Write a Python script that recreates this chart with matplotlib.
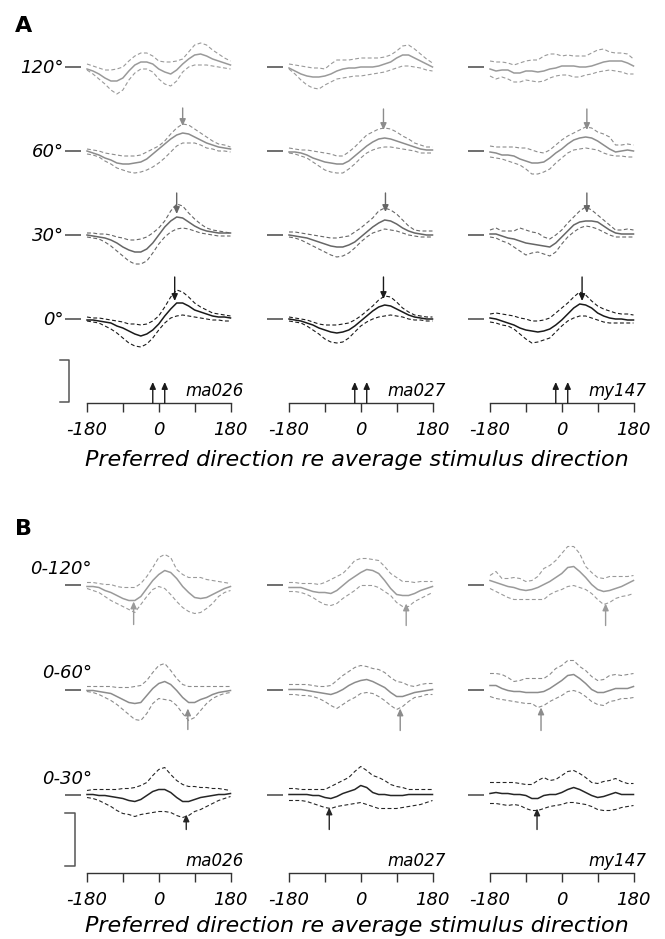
"""Population tuning of preferred direction, panels A and B, three animals."""

import matplotlib
matplotlib.use("Agg")
import matplotlib.pyplot as plt

plt.rcParams["font.family"] = ["DejaVu Sans"]

W, H = 665, 939

ANGLES = [-180, -165, -150, -135, -120, -105, -90, -75, -60, -45, -30, -15, 0,
          15, 30, 45, 60, 75, 90, 105, 120, 135, 150, 165, 180]
SUBJECTS = ["ma026", "ma027", "my147"]
STIM_DIRS = [-15, 15]
XTICKS = [-180, -90, 0, 90, 180]
XTICKLABELS = ["-180", "", "0", "", "180"]
XLABEL = "Preferred direction re average stimulus direction"

A_ROWS = ["0°", "30°", "60°", "120°"]
B_ROWS = ["0-30°", "0-60°", "0-120°"]

# ---- panel A, ma026 ----
A_MA026_0_MID = [-1, -1, -2, -3, -4, -7, -9, -12, -15, -17, -15, -11, -5, 3, 10, 16, 16, 13, 9, 7, 5, 3, 2, 2, 1]
A_MA026_0_HI = [2, 1, 1, 0, -1, -2, -3, -5, -5, -6, -5, -2, 3, 12, 22, 29, 27, 22, 16, 12, 9, 6, 5, 4, 3]
A_MA026_0_LO = [-2, -3, -4, -7, -10, -14, -19, -24, -27, -28, -25, -19, -11, -4, 1, 3, 4, 3, 2, 1, 0, -1, -1, -2, -2]
A_MA026_30_MID = [0, -1, -2, -3, -5, -8, -12, -15, -17, -17, -14, -8, 0, 8, 14, 18, 17, 13, 9, 6, 4, 3, 2, 2, 2]
A_MA026_30_HI = [2, 2, 1, 1, 0, -2, -3, -5, -5, -4, -2, 2, 7, 14, 24, 31, 29, 22, 16, 11, 7, 5, 4, 3, 2]
A_MA026_30_LO = [-2, -3, -4, -7, -11, -16, -21, -26, -29, -29, -26, -18, -9, -2, 3, 6, 7, 6, 4, 2, 1, 0, -1, -1, -1]
A_MA026_60_MID = [0, -2, -4, -7, -9, -12, -13, -13, -12, -11, -8, -3, 2, 7, 12, 16, 18, 17, 14, 11, 8, 6, 4, 3, 2]
A_MA026_60_HI = [2, 1, 0, -2, -3, -4, -5, -5, -5, -4, -1, 2, 5, 10, 17, 23, 27, 26, 22, 18, 14, 10, 7, 6, 4]
A_MA026_60_LO = [-3, -4, -6, -10, -13, -17, -19, -21, -22, -21, -19, -16, -12, -7, -1, 5, 8, 8, 8, 6, 3, 2, 0, 0, -1]
A_MA026_120_MID = [-2, -4, -7, -11, -14, -14, -11, -4, 2, 5, 5, 3, -2, -5, -7, -3, 3, 8, 12, 13, 11, 8, 6, 4, 2]
A_MA026_120_HI = [3, 1, -1, -3, -3, -2, 0, 6, 11, 14, 14, 11, 6, 5, 5, 6, 8, 15, 22, 24, 22, 17, 13, 9, 6]
A_MA026_120_LO = [-3, -7, -12, -17, -23, -27, -23, -13, -6, -2, -2, -5, -12, -17, -19, -14, -5, 0, 2, 2, 2, 1, 0, -1, -2]

# ---- panel A, ma027 ----
A_MA027_0_MID = [0, -1, -2, -4, -6, -9, -11, -13, -14, -13, -11, -7, -2, 3, 8, 12, 14, 13, 10, 7, 4, 2, 1, 0, 0]
A_MA027_0_HI = [2, 1, 0, -1, -3, -5, -6, -6, -6, -5, -4, -1, 3, 8, 13, 19, 23, 22, 17, 11, 7, 4, 3, 2, 2]
A_MA027_0_LO = [-2, -3, -4, -7, -11, -15, -20, -23, -24, -23, -19, -13, -7, -3, 0, 2, 3, 4, 3, 2, 0, -1, -1, -2, -2]
A_MA027_30_MID = [0, -1, -2, -3, -5, -7, -9, -11, -12, -12, -10, -7, -2, 3, 8, 12, 15, 14, 11, 7, 4, 2, 1, 0, 0]
A_MA027_30_HI = [3, 3, 2, 1, 0, -1, -2, -3, -3, -2, -1, 3, 7, 12, 17, 24, 27, 25, 21, 15, 9, 5, 4, 4, 4]
A_MA027_30_LO = [-2, -3, -5, -8, -11, -14, -17, -20, -22, -21, -18, -13, -7, -2, 2, 4, 6, 5, 4, 2, 0, -1, -2, -2, -2]
A_MA027_60_MID = [-1, -1, -2, -4, -7, -9, -11, -12, -13, -13, -10, -5, 0, 5, 9, 12, 13, 12, 10, 8, 6, 4, 2, 1, 1]
A_MA027_60_HI = [3, 2, 1, 1, 0, -1, -2, -3, -5, -5, -1, 4, 10, 16, 19, 22, 23, 22, 19, 15, 12, 8, 6, 4, 4]
A_MA027_60_LO = [-2, -3, -5, -7, -11, -15, -19, -21, -22, -22, -18, -13, -7, -2, 1, 3, 4, 4, 3, 2, 1, 0, -2, -2, -2]
A_MA027_120_MID = [-1, -4, -7, -9, -10, -10, -9, -7, -4, -2, -1, -1, 0, 0, 0, 1, 3, 5, 9, 12, 12, 9, 6, 3, 0]
A_MA027_120_HI = [3, 2, 1, 0, -1, -1, -2, 3, 7, 7, 7, 8, 9, 9, 9, 9, 10, 12, 16, 21, 22, 18, 13, 8, 4]
A_MA027_120_LO = [-2, -7, -13, -18, -21, -22, -18, -15, -12, -11, -10, -9, -9, -8, -7, -6, -5, -3, -1, 1, 1, 0, -1, -3, -4]

# ---- panel A, my147 ----
A_MY147_0_MID = [1, 0, -2, -4, -6, -9, -11, -12, -13, -12, -10, -6, -1, 5, 11, 15, 14, 11, 6, 3, 1, 0, 0, -1, -1]
A_MY147_0_HI = [5, 6, 5, 4, 3, 1, 0, -2, -2, -1, 1, 6, 11, 16, 22, 27, 24, 18, 13, 10, 8, 6, 5, 5, 4]
A_MY147_0_LO = [-3, -4, -6, -7, -10, -15, -20, -24, -23, -21, -19, -13, -7, -2, 1, 3, 3, 1, -1, -3, -4, -4, -4, -4, -4]
A_MY147_30_MID = [1, 1, -1, -3, -4, -6, -8, -9, -10, -11, -12, -8, -2, 4, 10, 13, 14, 14, 13, 9, 5, 2, 1, 1, 1]
A_MY147_30_HI = [5, 7, 4, 4, 4, 7, 5, 3, 2, -2, -4, 0, 5, 12, 18, 24, 28, 25, 20, 15, 10, 5, 5, 6, 5]
A_MY147_30_LO = [-2, -3, -6, -8, -12, -16, -20, -18, -17, -19, -21, -17, -9, -2, 3, 7, 9, 8, 6, 3, 0, -2, -2, -2, -2]
A_MY147_60_MID = [-1, -2, -4, -4, -5, -8, -10, -12, -12, -11, -7, -2, 2, 7, 11, 13, 14, 13, 10, 6, 2, -1, 0, 1, 0]
A_MY147_60_HI = [5, 4, 4, 4, 4, 3, 3, 1, -1, -2, 1, 6, 11, 15, 18, 21, 24, 23, 19, 17, 14, 6, 6, 7, 6]
A_MY147_60_LO = [-6, -7, -8, -10, -12, -14, -18, -23, -23, -21, -18, -12, -7, -2, 1, 2, 3, 2, 1, -2, -4, -5, -5, -6, -6]
A_MY147_120_MID = [-2, -4, -3, -3, -6, -6, -4, -4, -5, -4, -2, -1, 1, 1, 1, 0, 0, 1, 3, 5, 6, 6, 6, 4, 1]
A_MY147_120_HI = [6, 5, 5, 4, 2, 4, 6, 7, 7, 11, 13, 13, 11, 12, 11, 11, 11, 14, 17, 18, 15, 14, 14, 13, 8]
A_MY147_120_LO = [-9, -12, -10, -12, -15, -15, -13, -14, -15, -14, -11, -9, -8, -8, -10, -10, -8, -7, -5, -4, -3, -4, -5, -7, -7]

# ---- panel B, ma026 ----
B_MA026_30_MID = [0, 0, -1, -1, -2, -3, -4, -6, -7, -5, -1, 3, 5, 5, 2, -3, -7, -7, -5, -3, -2, -1, 0, 0, 1]
B_MA026_30_HI = [4, 5, 5, 5, 5, 5, 6, 6, 7, 9, 12, 19, 25, 27, 20, 14, 10, 8, 8, 7, 7, 6, 6, 5, 4]
B_MA026_30_LO = [-3, -4, -6, -9, -12, -16, -19, -20, -22, -20, -19, -18, -17, -17, -18, -21, -23, -21, -17, -15, -12, -9, -6, -4, -2]
B_MA026_60_MID = [-1, -1, -2, -3, -4, -7, -10, -13, -14, -13, -6, 1, 6, 8, 5, -1, -8, -13, -13, -10, -8, -5, -3, -2, -1]
B_MA026_60_HI = [3, 3, 3, 3, 3, 2, 2, 2, 3, 4, 9, 17, 24, 26, 19, 11, 5, 3, 3, 3, 3, 3, 3, 3, 3]
B_MA026_60_LO = [-2, -3, -5, -8, -11, -15, -20, -25, -30, -31, -24, -14, -9, -10, -11, -16, -24, -31, -28, -21, -14, -9, -6, -4, -3]
B_MA026_120_MID = [-2, -2, -3, -6, -8, -11, -14, -16, -16, -12, -4, 4, 10, 14, 12, 6, -2, -8, -13, -14, -13, -10, -7, -4, -2]
B_MA026_120_HI = [2, 2, 1, 0, 0, -2, -3, -3, -3, 1, 8, 17, 27, 30, 27, 15, 10, 7, 7, 7, 5, 4, 3, 2, 1]
B_MA026_120_LO = [-4, -6, -8, -12, -16, -19, -22, -25, -28, -20, -12, -5, -2, -4, -10, -17, -23, -27, -29, -28, -24, -19, -12, -8, -6]

# ---- panel B, ma027 ----
B_MA027_30_MID = [0, 0, 0, 0, -1, -1, -3, -4, -2, 1, 3, 5, 9, 7, 2, 0, 0, -1, -1, -1, 0, 0, 0, 0, 0]
B_MA027_30_HI = [6, 6, 5, 5, 5, 5, 5, 8, 11, 14, 17, 23, 28, 24, 19, 17, 14, 10, 8, 7, 5, 5, 5, 5, 5]
B_MA027_30_LO = [-6, -6, -6, -7, -9, -11, -13, -14, -12, -11, -10, -9, -8, -10, -12, -14, -14, -14, -14, -13, -12, -11, -10, -8, -6]
B_MA027_60_MID = [0, 0, 0, -1, -2, -3, -4, -5, -3, 0, 4, 7, 9, 10, 8, 5, 2, -3, -7, -7, -5, -3, -2, -1, 0]
B_MA027_60_HI = [5, 5, 5, 5, 4, 3, 3, 4, 9, 14, 18, 22, 24, 23, 21, 20, 17, 12, 8, 7, 4, 3, 5, 6, 6]
B_MA027_60_LO = [-5, -5, -6, -6, -7, -9, -12, -16, -19, -15, -11, -8, -4, -3, -4, -7, -11, -16, -20, -17, -12, -8, -7, -5, -5]
B_MA027_120_MID = [-3, -3, -3, -5, -7, -8, -8, -9, -6, -1, 4, 8, 12, 15, 14, 11, 4, -4, -10, -11, -11, -9, -6, -4, -2]
B_MA027_120_HI = [2, 2, 1, 1, 1, 0, 2, 5, 8, 11, 17, 24, 26, 26, 25, 24, 18, 11, 7, 3, 3, 2, 3, 3, 3]
B_MA027_120_LO = [-7, -7, -8, -10, -13, -17, -20, -21, -19, -14, -10, -6, -1, -1, -1, -3, -7, -11, -18, -22, -22, -17, -14, -11, -8]

# ---- panel B, my147 ----
B_MY147_30_MID = [1, 2, 1, 1, 0, 0, -1, -4, -4, -1, 0, 0, 2, 5, 7, 5, 2, -1, -3, -2, 0, 2, 0, 0, 0]
B_MY147_30_HI = [12, 12, 12, 12, 12, 11, 10, 10, 14, 17, 14, 15, 19, 23, 24, 21, 17, 12, 11, 13, 14, 16, 13, 11, 11]
B_MY147_30_LO = [-9, -9, -10, -11, -10, -11, -14, -16, -16, -14, -12, -11, -10, -8, -8, -9, -10, -12, -15, -16, -16, -15, -13, -12, -11]
B_MY147_60_MID = [4, 4, 1, -1, -2, -2, -3, -3, -3, -2, 1, 5, 9, 14, 15, 11, 6, 0, -3, -3, -1, 1, 1, 1, 3]
B_MY147_60_HI = [16, 16, 15, 12, 8, 9, 11, 11, 11, 11, 15, 21, 24, 29, 29, 23, 19, 13, 9, 10, 14, 15, 14, 15, 16]
B_MY147_60_LO = [-7, -9, -10, -11, -12, -13, -14, -14, -18, -16, -12, -9, -6, -2, -1, -3, -7, -12, -15, -16, -12, -11, -9, -9, -8]
B_MY147_120_MID = [4, 2, 0, -2, -3, -5, -6, -5, -3, 0, 3, 7, 11, 17, 18, 13, 7, 0, -5, -7, -6, -4, -2, 1, 4]
B_MY147_120_HI = [9, 13, 6, 6, 7, 6, 3, 4, 8, 16, 19, 24, 31, 38, 38, 31, 18, 12, 7, 6, 8, 8, 8, 8, 9]
B_MY147_120_LO = [-4, -7, -10, -13, -15, -15, -15, -15, -15, -15, -10, -7, -5, -2, -1, -3, -5, -9, -15, -20, -18, -14, -12, -11, -9]

# arrows: direction, tip value, tail value (rows ordered as A_ROWS / B_ROWS)
A_ARROW_X = [[40, 45, 60, None], [57, 62, 57, None], [51, 63, 63, None]]
A_ARROW_TIP = [[18, 21, 25, None], [20, 23, 21, None], [18, 22, 21, None]]
A_ARROW_TAIL = [[42, 42, 43, None], [42, 42, 42, None], [42, 42, 42, None]]
B_ARROW_X = [[69, 73, -63], [-79, 99, 114], [-62, -52, 110]]
B_ARROW_TIP = [[-20, -19, -17], [-13, -19, -19], [-14, -18, -19]]
B_ARROW_TAIL = [[-35, -40, -40], [-35, -41, -41], [-35, -41, -41]]

PANEL_A = [
    [(A_MA026_0_MID, A_MA026_0_HI, A_MA026_0_LO), (A_MA026_30_MID, A_MA026_30_HI, A_MA026_30_LO),
     (A_MA026_60_MID, A_MA026_60_HI, A_MA026_60_LO), (A_MA026_120_MID, A_MA026_120_HI, A_MA026_120_LO)],
    [(A_MA027_0_MID, A_MA027_0_HI, A_MA027_0_LO), (A_MA027_30_MID, A_MA027_30_HI, A_MA027_30_LO),
     (A_MA027_60_MID, A_MA027_60_HI, A_MA027_60_LO), (A_MA027_120_MID, A_MA027_120_HI, A_MA027_120_LO)],
    [(A_MY147_0_MID, A_MY147_0_HI, A_MY147_0_LO), (A_MY147_30_MID, A_MY147_30_HI, A_MY147_30_LO),
     (A_MY147_60_MID, A_MY147_60_HI, A_MY147_60_LO), (A_MY147_120_MID, A_MY147_120_HI, A_MY147_120_LO)],
]
PANEL_B = [
    [(B_MA026_30_MID, B_MA026_30_HI, B_MA026_30_LO), (B_MA026_60_MID, B_MA026_60_HI, B_MA026_60_LO),
     (B_MA026_120_MID, B_MA026_120_HI, B_MA026_120_LO)],
    [(B_MA027_30_MID, B_MA027_30_HI, B_MA027_30_LO), (B_MA027_60_MID, B_MA027_60_HI, B_MA027_60_LO),
     (B_MA027_120_MID, B_MA027_120_HI, B_MA027_120_LO)],
    [(B_MY147_30_MID, B_MY147_30_HI, B_MY147_30_LO), (B_MY147_60_MID, B_MY147_60_HI, B_MY147_60_LO),
     (B_MY147_120_MID, B_MY147_120_HI, B_MY147_120_LO)],
]

# layout (pixels) and styling
COL_LEFT = [87, 289, 490]
COL_W = 143.5
PX_PER_DEG = COL_W / 360
A_OFFSETS = [0, 84, 168, 252]
B_OFFSETS = [0, 105, 210]
A_COLORS = ["#1a1a1a", "#666666", "#8c8c8c", "#9a9a9a"]
B_COLORS = ["#262626", "#8c8c8c", "#9a9a9a"]
AXIS_COLOR = "#333333"
DASH = (0, (3.5, 2.2))

fig = plt.figure(figsize=(W / 100, H / 100), dpi=100)


def px_axes(left, top, width, bottom):
    return fig.add_axes([left / W, 1 - bottom / H, width / W, (bottom - top) / H])


def draw_column(ax, traces, offsets, colors, ybottom, ytop, name):
    ax.set_xlim(-180, 180)
    ax.set_ylim(ybottom, ytop)
    for spine in ["left", "right", "top"]:
        ax.spines[spine].set_visible(False)
    ax.spines["bottom"].set_color(AXIS_COLOR)
    ax.spines["bottom"].set_linewidth(1.0)
    ax.set_yticks([])
    ax.set_xticks(XTICKS)
    ax.set_xticklabels(XTICKLABELS, style="italic", fontsize=13)
    ax.tick_params(axis="x", direction="out", length=6.5, width=1.0,
                   color=AXIS_COLOR, pad=6.5)
    ax.patch.set_visible(False)

    for (mid, hi, lo), off, col in zip(traces, offsets, colors):
        ax.plot(ANGLES, [v + off for v in hi], color=col, lw=0.8, ls=DASH, clip_on=False)
        ax.plot(ANGLES, [v + off for v in lo], color=col, lw=0.8, ls=DASH, clip_on=False)
        ax.plot(ANGLES, [v + off for v in mid], color=col, lw=1.1, clip_on=False)
        # zero reference tick to the left of each trace
        ax.plot([-180 - 55, -180 - 15], [off, off], color="#555555", lw=1.2,
                clip_on=False, solid_capstyle="butt")

    ax.text(180 + 13 / PX_PER_DEG, ybottom + 7, name, ha="right", va="baseline",
            style="italic", fontsize=12)


def arrow(ax, x, tail, tip, color):
    ax.annotate("", xy=(x, tip), xytext=(x, tail), annotation_clip=False,
                arrowprops=dict(arrowstyle="-|>,head_length=0.4,head_width=0.18",
                                color=color, lw=1.0, mutation_scale=10,
                                shrinkA=0, shrinkB=0))


# ---------- panel A ----------
A_BOTTOM, A_TOP = 403, 30
a_ylo = -84
a_yhi = a_ylo + (A_BOTTOM - A_TOP)
axes_a = []
for c, name in enumerate(SUBJECTS):
    ax = px_axes(COL_LEFT[c], A_TOP, COL_W, A_BOTTOM)
    draw_column(ax, PANEL_A[c], A_OFFSETS, A_COLORS, a_ylo, a_yhi, name)
    for r, off in enumerate(A_OFFSETS):
        if A_ARROW_X[c][r] is not None:
            arrow(ax, A_ARROW_X[c][r], off + A_ARROW_TAIL[c][r],
                  off + A_ARROW_TIP[c][r], A_COLORS[r])
    for d in STIM_DIRS:
        arrow(ax, d, a_ylo, a_ylo + 21, "#1a1a1a")
    axes_a.append(ax)

ax = axes_a[0]
for label, off in zip(A_ROWS, A_OFFSETS):
    ax.text(-180 - 23 / PX_PER_DEG, off - 6, label, ha="right", va="baseline",
            style="italic", fontsize=13, clip_on=False)
# scale bar
bx, tx = -180 - 18 / PX_PER_DEG, -180 - 27 / PX_PER_DEG
ax.plot([tx, bx, bx, tx], [-41, -41, -83, -83], color="#555555", lw=1.1,
        clip_on=False)

# ---------- panel B ----------
B_BOTTOM, B_TOP = 873, 545
b_ylo = -78.5
b_yhi = b_ylo + (B_BOTTOM - B_TOP)
axes_b = []
for c, name in enumerate(SUBJECTS):
    ax = px_axes(COL_LEFT[c], B_TOP, COL_W, B_BOTTOM)
    draw_column(ax, PANEL_B[c], B_OFFSETS, B_COLORS, b_ylo, b_yhi, name)
    for r, off in enumerate(B_OFFSETS):
        arrow(ax, B_ARROW_X[c][r], off + B_ARROW_TAIL[c][r],
              off + B_ARROW_TIP[c][r], B_COLORS[r])
    axes_b.append(ax)

ax = axes_b[0]
for label, off in zip(B_ROWS, B_OFFSETS):
    ax.text(-180 + 5 / PX_PER_DEG, off + 11, label, ha="right", va="baseline",
            style="italic", fontsize=13, clip_on=False)
bx, tx = -180 - 12 / PX_PER_DEG, -180 - 22 / PX_PER_DEG
ax.plot([tx, bx, bx, tx], [-18.5, -18.5, -71.5, -71.5], color="#555555", lw=1.1,
        clip_on=False)

# panel letters and shared x labels
fig.text(15 / W, 1 - 32 / H, "A", fontsize=16, fontweight="bold", va="baseline")
fig.text(15 / W, 1 - 535 / H, "B", fontsize=16, fontweight="bold", va="baseline")
fig.text(357 / W, 1 - 466 / H, XLABEL, ha="center", va="baseline",
         style="italic", fontsize=16)
fig.text(357 / W, 1 - 932 / H, XLABEL, ha="center", va="baseline",
         style="italic", fontsize=16)

fig.savefig("out.png", dpi=100)
